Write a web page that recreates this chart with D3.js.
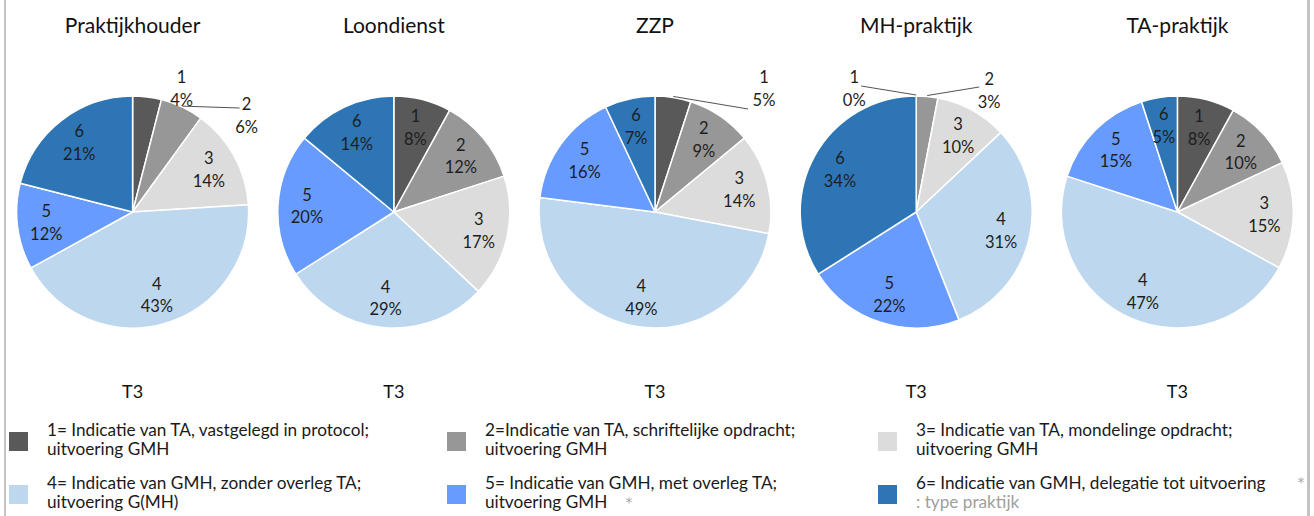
<!DOCTYPE html>
<html>
<head>
<meta charset="utf-8">
<script src="https://cdn.jsdelivr.net/npm/d3@7"></script>
<style>
  html, body { margin: 0; padding: 0; background: #ffffff; }
  svg { display: block; font-family: Lato, "Liberation Sans", sans-serif; }
</style>
</head>
<body>
<svg id="chart" width="1314" height="516"></svg>
<script>
// Practice types (one pie each)
const practiceTypes = ["Praktijkhouder", "Loondienst", "ZZP", "MH-praktijk", "TA-praktijk"];
const periodLabel = "T3";

// Category codes 1..6
const categories = ["1", "2", "3", "4", "5", "6"];

// Percentages per category, one array per practice type
const praktijkhouder = [4, 6, 14, 43, 12, 21];
const loondienst     = [8, 12, 17, 29, 20, 14];
const zzp            = [5, 9, 14, 49, 16, 7];
const mhPraktijk     = [0, 3, 10, 31, 22, 34];
const taPraktijk     = [8, 10, 15, 47, 15, 5];
const seriesValues = [praktijkhouder, loondienst, zzp, mhPraktijk, taPraktijk];

// Legend descriptions (two lines each)
const legendLines = [
  ["1= Indicatie van TA, vastgelegd in protocol;", "uitvoering GMH"],
  ["2=Indicatie van TA, schriftelijke opdracht;", "uitvoering GMH"],
  ["3= Indicatie van TA, mondelinge opdracht;", "uitvoering GMH"],
  ["4= Indicatie van GMH, zonder overleg TA;", "uitvoering G(MH)"],
  ["5= Indicatie van GMH, met overleg TA;", "uitvoering GMH"],
  ["6= Indicatie van GMH, delegatie tot uitvoering", ""]
];
const footnote = ": type praktijk";

const colors = ["#595959", "#979797", "#dcdcdc", "#bdd7ee", "#679bfd", "#2e75b6"];

const W = 1314, H = 516;
const svg = d3.select("#chart");

// frame side rules
svg.append("rect").attr("x", 4).attr("y", 0).attr("width", 2).attr("height", H).attr("fill", "#c3c3c3");
svg.append("rect").attr("x", 1307).attr("y", 0).attr("width", 3).attr("height", H).attr("fill", "#c3c3c3");

const band = d3.scaleBand().domain(practiceTypes).range([2, 1308]);
const color = d3.scaleOrdinal().domain(categories).range(colors);
const cy = 212, R = 116;

const pie = d3.pie().sort(null).value(d => d.value);
const arc = d3.arc().innerRadius(0).outerRadius(R);
const labelArc = d3.arc().innerRadius(R * 0.75).outerRadius(R * 0.75);

// labels placed outside the pie, offsets from the pie centre
const callouts = {
  "Praktijkhouder-1": { x: 49, y: -123, line: null },
  "Praktijkhouder-2": { x: 114, y: -96, line: [107, -104] },
  "ZZP-1": { x: 109, y: -123, line: [93, -103] },
  "MH-praktijk-1": { x: -62, y: -123, line: [-55, -126] },
  "MH-praktijk-2": { x: 73, y: -121, line: [63, -125] }
};

practiceTypes.forEach((name, i) => {
  const cx = band(name) + band.bandwidth() / 2;
  const g = svg.append("g").attr("transform", `translate(${cx},${cy})`);
  const data = categories.map((c, k) => ({ cat: c, value: seriesValues[i][k] }));
  const arcs = pie(data);

  g.selectAll("path.slice").data(arcs).join("path")
    .attr("class", "slice")
    .attr("d", arc)
    .attr("fill", d => color(d.data.cat))
    .attr("stroke", "#ffffff")
    .attr("stroke-width", 1.5)
    .attr("stroke-linejoin", "round");

  arcs.forEach(d => {
    const key = name + "-" + d.data.cat;
    let lx, ly;
    if (callouts[key]) {
      const co = callouts[key];
      lx = co.x; ly = co.y;
      if (co.line) {
        const mid = (d.startAngle + d.endAngle) / 2;
        const px = Math.sin(mid) * (R + 1), py = -Math.cos(mid) * (R + 1);
        g.append("line")
          .attr("x1", px).attr("y1", py)
          .attr("x2", co.line[0]).attr("y2", co.line[1])
          .attr("stroke", "#404040").attr("stroke-width", 0.9);
      }
    } else {
      [lx, ly] = labelArc.centroid(d);
    }
    const t = g.append("text")
      .attr("x", lx).attr("y", ly)
      .attr("text-anchor", "middle")
      .attr("font-size", 16.5)
      .attr("fill", "#1e1e1e");
    t.append("tspan").attr("x", lx).attr("dy", "-0.36em").text(d.data.cat);
    t.append("tspan").attr("x", lx).attr("dy", "1.38em").text(d.data.value + "%");
  });

  svg.append("text")
    .attr("x", cx).attr("y", 33)
    .attr("text-anchor", "middle")
    .attr("font-size", 21)
    .attr("fill", "#111")
    .text(name);

  svg.append("text")
    .attr("x", cx).attr("y", 398)
    .attr("text-anchor", "middle")
    .attr("font-size", 18)
    .attr("fill", "#111")
    .text(periodLabel);
});

// legend, three columns by two rows
const colX = [9, 447, 878];
const rowY = [432, 485];
const legend = svg.append("g").attr("class", "legend");
categories.forEach((c, k) => {
  const col = k % 3, row = Math.floor(k / 3);
  const x = colX[col], y = rowY[row];
  legend.append("rect")
    .attr("x", x).attr("y", y).attr("width", 19).attr("height", 19)
    .attr("fill", color(c));
  const t = legend.append("text")
    .attr("x", x + 38).attr("y", y + 4)
    .attr("font-size", 17.2).attr("fill", "#1a1a1a");
  t.append("tspan").attr("x", x + 38).text(legendLines[k][0]);
  if (legendLines[k][1]) {
    t.append("tspan").attr("x", x + 38).attr("dy", 19).text(legendLines[k][1]);
  }
});
// footnote marks
legend.append("text").attr("x", 629).attr("y", 507).attr("text-anchor", "middle")
  .attr("font-family", "DejaVu Sans")
  .attr("font-size", 14).attr("fill", "#a8a8a8").text("*");
legend.append("text").attr("x", 1301).attr("y", 487).attr("text-anchor", "middle")
  .attr("font-family", "DejaVu Sans")
  .attr("font-size", 14).attr("fill", "#a8a8a8").text("*");
legend.append("text").attr("x", 916).attr("y", 508)
  .attr("font-size", 17.2).attr("fill", "#a0a0a0").text(footnote);
</script>
</body>
</html>
